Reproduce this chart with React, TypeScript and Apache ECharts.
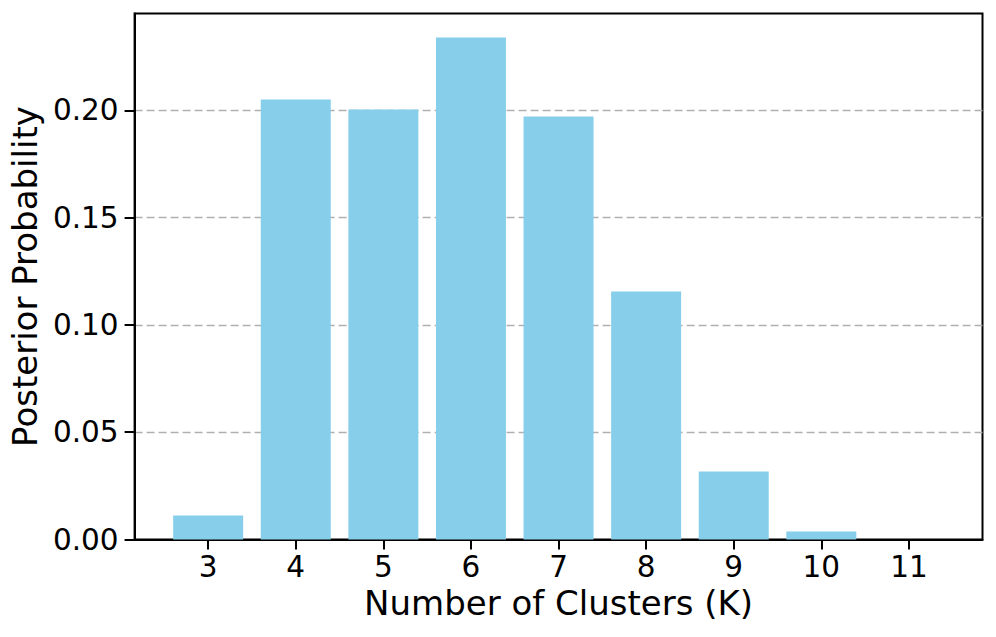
import React, { useEffect, useRef } from "react";
import * as echarts from "echarts";

const clusters = [3, 4, 5, 6, 7, 8, 9, 10, 11];
const probabilities = [0.0112, 0.2051, 0.2005, 0.234, 0.1972, 0.1156, 0.0317, 0.0037, 0.0];
const yTicks = [0, 0.05, 0.1, 0.15, 0.2];

const FONT = "DejaVu Sans";

export default function App() {
  const ref = useRef<HTMLDivElement>(null);
  useEffect(() => {
    if (!ref.current) return;
    const chart = echarts.init(ref.current, null, { renderer: "svg" });
    chart.setOption({
      animation: false,
      backgroundColor: "#ffffff",
      grid: {
        left: 134.5,
        right: 13.5,
        top: 13.5,
        bottom: 97.5,
        show: true,
        borderColor: "#000000",
        borderWidth: 2,
        backgroundColor: "transparent",
      },
      xAxis: {
        type: "value",
        min: 2.16,
        max: 11.84,
        name: "Number of Clusters (K)",
        nameLocation: "middle",
        nameGap: 45,
        nameTextStyle: { fontFamily: FONT, fontSize: 34, color: "#000" },
        axisLine: { show: true, onZero: false, lineStyle: { color: "#000", width: 2 } },
        axisTick: {
          show: true,
          customValues: clusters,
          length: 10,
          lineStyle: { color: "#000", width: 2 },
        },
        axisLabel: {
          customValues: clusters,
          margin: 12,
          fontFamily: FONT,
          fontSize: 29.5,
          color: "#000",
          formatter: (v: number) => String(v),
        },
        splitLine: { show: false },
      },
      yAxis: {
        type: "value",
        min: 0,
        max: 0.2452,
        interval: 0.05,
        name: "Posterior Probability",
        nameLocation: "middle",
        nameGap: 87,
        nameTextStyle: { fontFamily: FONT, fontSize: 34, color: "#000" },
        axisLine: { show: true, lineStyle: { color: "#000", width: 2 } },
        axisTick: {
          show: true,
          customValues: yTicks,
          length: 10,
          lineStyle: { color: "#000", width: 2 },
        },
        axisLabel: {
          customValues: yTicks,
          margin: 16,
          fontFamily: FONT,
          fontSize: 29.5,
          color: "#000",
          formatter: (v: number) => v.toFixed(2),
        },
        splitLine: {
          show: true,
          showMinLine: false,
          showMaxLine: true,
          lineStyle: { color: "#b0b0b0", type: [8, 4], width: 1.4 },
        },
      },
      series: [
        {
          type: "bar",
          data: clusters.map((c, i) => [c, probabilities[i]]),
          barWidth: 70,
          itemStyle: { color: "#87ceeb" },
          z: 3,
        },
      ],
    });
    return () => chart.dispose();
  }, []);
  return <div ref={ref} style={{ width: 996, height: 637, position: "absolute", left: 0, top: 0 }} />;
}
